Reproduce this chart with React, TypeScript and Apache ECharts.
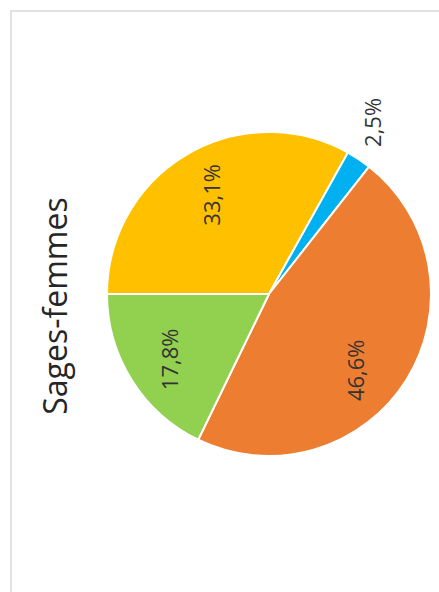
import React, { useEffect, useRef } from "react";
import * as echarts from "echarts";

const chartTitle = "Sages-femmes";
const categories = ["Groupe 1", "Groupe 2", "Groupe 3", "Groupe 4"];
const values = [33.1, 2.5, 46.6, 17.8];
const colors = ["#FFC000", "#00B0F0", "#ED7D31", "#92D050"];

// label placement (radius fraction, angle nudge in degrees) — styling only
const labelPlacement = [
  { r: 0.71, da: 0 },
  { r: 1.235, da: 2.7 },
  { r: 0.71, da: -9.5 },
  { r: 0.74, da: 1 },
];

const CX = 269;
const CY = 294;
const R = 162;
const START = 180;
const FONT = "'Open Sans', 'Noto Sans', sans-serif";

const fmt = (v: number) => v.toFixed(1).replace(".", ",") + "%";

export default function App() {
  const ref = useRef<HTMLDivElement>(null);

  useEffect(() => {
    if (!ref.current) return;
    const chart = echarts.init(ref.current, undefined, { renderer: "svg" });
    const total = values.reduce((a, b) => a + b, 0);
    const mids: number[] = [];
    let cum = 0;
    values.forEach((v) => {
      mids.push(START - ((cum + v / 2) / total) * 360);
      cum += v;
    });

    chart.setOption({
      animation: false,
      backgroundColor: "#ffffff",
      graphic: [
        {
          type: "rect",
          z: 0,
          shape: { x: 11, y: 11, width: 600, height: 800 },
          style: { fill: "none", stroke: "#e2e2e2", lineWidth: 2 },
        },
        {
          type: "text",
          x: 54,
          y: 306,
          rotation: Math.PI / 2,
          style: {
            text: chartTitle,
            fontSize: 32,
            fontFamily: FONT,
            fill: "#262626",
            align: "center",
            verticalAlign: "middle",
          },
        },
      ],
      series: [
        {
          type: "pie",
          center: [CX, CY],
          radius: [0, R],
          startAngle: START,
          clockwise: true,
          avoidLabelOverlap: false,
          itemStyle: { borderColor: "#ffffff", borderWidth: 2 },
          label: {
            show: true,
            position: "inside",
            rotate: 90,
            formatter: (p: any) => fmt(p.value),
            fontSize: 22,
            fontFamily: FONT,
            color: "#333333",
          },
          labelLine: { show: false },
          labelLayout: (p: any) => {
            const i = p.dataIndex;
            const pl = labelPlacement[i];
            const a = ((mids[i] + pl.da) * Math.PI) / 180;
            return {
              x: CX + Math.cos(a) * R * pl.r,
              y: CY - Math.sin(a) * R * pl.r,
              align: "center",
              verticalAlign: "middle",
              rotate: 90,
            };
          },
          data: values.map((v, i) => ({
            name: categories[i],
            value: v,
            itemStyle: { color: colors[i] },
          })),
        },
      ],
    });
    return () => chart.dispose();
  }, []);

  return (
    <div
      ref={ref}
      style={{ position: "fixed", left: 0, top: 0, width: 439, height: 592 }}
    />
  );
}
